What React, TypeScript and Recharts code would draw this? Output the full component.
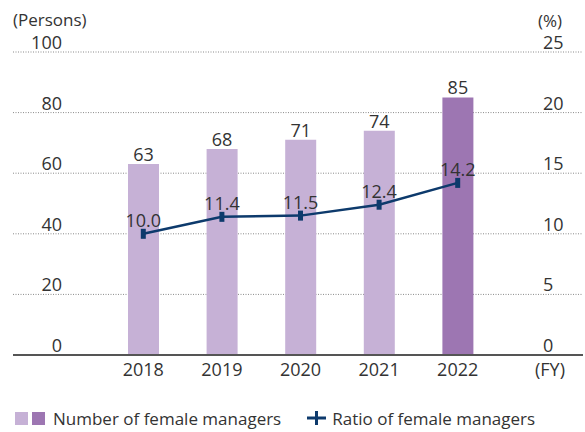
import {
  ComposedChart,
  Bar,
  Line,
  XAxis,
  YAxis,
  CartesianGrid,
  Cell,
  LabelList,
} from "recharts";

const years = ["2018", "2019", "2020", "2021", "2022"];
const managers = [63, 68, 71, 74, 85];
const ratio = [10.0, 11.4, 11.5, 12.4, 14.2];
const leftTicks = [0, 20, 40, 60, 80, 100];
const rightTicks = [0, 5, 10, 15, 20, 25];

const data = years.map((year, i) => ({
  year,
  managers: managers[i],
  ratio: ratio[i],
}));

const FONT = "'Open Sans', sans-serif";
const TEXT = "#333333";
const BAR_LIGHT = "#c6b1d6";
const BAR_DARK = "#9d76b2";
const NAVY = "#0d3a6c";
const NUM_SIZE = 18;

function LeftTick(props: any) {
  return (
    <text
      x={62}
      y={props.y - 10}
      textAnchor="end"
      dominantBaseline="central"
      fontSize={NUM_SIZE}
      fill={TEXT}
      fontFamily={FONT}
    >
      {props.payload.value}
    </text>
  );
}

function RightTick(props: any) {
  return (
    <text
      x={543}
      y={props.y - 10}
      textAnchor="start"
      dominantBaseline="central"
      fontSize={NUM_SIZE}
      fill={TEXT}
      fontFamily={FONT}
    >
      {props.payload.value}
    </text>
  );
}

function RatioDot(props: any) {
  const { cx, cy } = props;
  if (cx == null || cy == null) return null;
  return <rect x={cx - 2.5} y={cy - 5} width={5} height={10} fill={NAVY} />;
}

export default function App() {
  return (
    <div
      style={{
        position: "absolute",
        left: 0,
        top: 0,
        width: 585,
        height: 432,
        background: "#fff",
        fontFamily: FONT,
        color: TEXT,
      }}
    >
      <ComposedChart
        width={585}
        height={432}
        data={data}
        margin={{ top: 52, right: 0, bottom: 47, left: 0 }}
      >
        <CartesianGrid
          yAxisId="left"
          vertical={false}
          stroke="#8a8a8a"
          strokeDasharray="1 1.5"
        />
        <XAxis
          dataKey="year"
          height={30}
          padding={{ left: 91, right: 86 }}
          axisLine={{ stroke: "#555", strokeWidth: 2 }}
          tickLine={false}
          tick={{ fontSize: NUM_SIZE, fill: TEXT, fontFamily: FONT }}
          interval={0}
        />
        <YAxis
          yAxisId="left"
          width={13}
          domain={[0, 100]}
          ticks={leftTicks}
          interval={0}
          axisLine={false}
          tickLine={false}
          tick={<LeftTick />}
        />
        <YAxis
          yAxisId="right"
          orientation="right"
          width={2}
          domain={[0, 25]}
          ticks={rightTicks}
          interval={0}
          axisLine={false}
          tickLine={false}
          tick={<RightTick />}
        />
        <Bar
          yAxisId="left"
          dataKey="managers"
          barSize={31}
          isAnimationActive={false}
        >
          {data.map((d, i) => (
            <Cell key={d.year} fill={i === data.length - 1 ? BAR_DARK : BAR_LIGHT} />
          ))}
          <LabelList
            dataKey="managers"
            position="top"
            offset={3}
            fontSize={NUM_SIZE}
            fill={TEXT}
            fontFamily={FONT}
          />
        </Bar>
        <Line
          yAxisId="right"
          dataKey="ratio"
          type="linear"
          stroke={NAVY}
          strokeWidth={2.5}
          dot={<RatioDot />}
          activeDot={false}
          isAnimationActive={false}
        >
          <LabelList
            dataKey="ratio"
            position="top"
            offset={7}
            fontSize={NUM_SIZE}
            fill={TEXT}
            fontFamily={FONT}
            formatter={(v: any) => Number(v).toFixed(1)}
          />
        </Line>
      </ComposedChart>

      <div style={{ position: "absolute", left: 13, top: 11, fontSize: 17, lineHeight: "17px" }}>
        (Persons)
      </div>
      <div style={{ position: "absolute", left: 538, top: 12, fontSize: 17, lineHeight: "17px" }}>
        (%)
      </div>
      <div style={{ position: "absolute", left: 535, top: 357, fontSize: 18 }}>
        (FY)
      </div>

      <div
        style={{
          position: "absolute",
          left: 15,
          top: 406,
          display: "flex",
          alignItems: "center",
          fontSize: 17,
          height: 24,
        }}
      >
        <span style={{ width: 13, height: 13, background: BAR_LIGHT, display: "inline-block" }} />
        <span
          style={{
            width: 13,
            height: 13,
            background: BAR_DARK,
            display: "inline-block",
            marginLeft: 4,
          }}
        />
        <span style={{ marginLeft: 8 }}>Number of female managers</span>
        <svg width={19} height={14} style={{ marginLeft: 26 }}>
          <rect x={0} y={5.5} width={19} height={3} fill={NAVY} />
          <rect x={8} y={0} width={3} height={14} fill={NAVY} />
        </svg>
        <span style={{ marginLeft: 6 }}>Ratio of female managers</span>
      </div>
    </div>
  );
}
